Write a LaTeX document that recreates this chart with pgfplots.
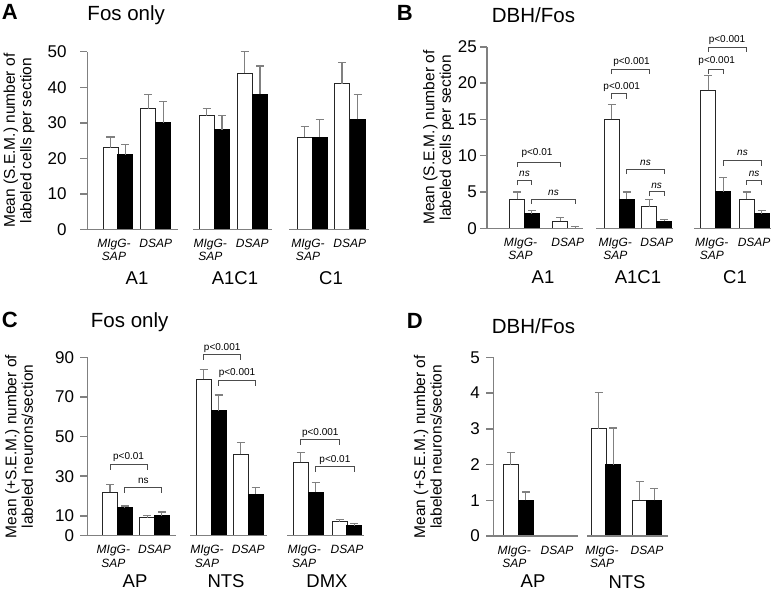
\documentclass[border=0pt]{standalone}
\usepackage{pgfplots}
\pgfplotsset{compat=1.18}
\usepackage{fontspec}
\setmainfont{Liberation Sans}
\definecolor{axgray}{gray}{0.5}
\definecolor{brk}{gray}{0.3}
\pgfplotsset{
  panel/.style={
    scale only axis, clip=false,
    axis lines=left, axis line style={-, axgray, line width=1.5bp},
    x axis line style={draw=none},
    tick align=outside, major tick length=7bp,
    ytick style={axgray, line width=1.5bp},
    xtick style={draw=none},
    /pgf/number format/assume math mode=true,
    yticklabel style={font=\fontsize{17bp}{17bp}\selectfont, anchor=east, inner sep=0pt},
    xticklabel style={font=\fontsize{12bp}{13.3bp}\selectfont\itshape, align=center, anchor=north, inner sep=0pt, yshift=-2.5bp},
    extra x tick style={xticklabel style={font=\fontsize{18.5bp}{18.5bp}\selectfont\upshape, yshift=-32.5bp}},
    ylabel style={align=center, font=\fontsize{15.5bp}{16.5bp}\selectfont, anchor=center},
    title style={anchor=base west, inner sep=0pt, font=\fontsize{20.5bp}{20.5bp}\selectfont},
    ymin=0,
  },
  wbar/.style={ybar, bar width=15, bar shift=0pt, fill=white, draw=black!85, line width=1bp,
    /pgfplots/error bars/y dir=plus, /pgfplots/error bars/y explicit,
    /pgfplots/error bars/error bar style={axgray, line width=1.2bp},
    /pgfplots/error bars/error mark options={axgray, line width=1.2bp, mark size=4bp, rotate=90}},
  bbar/.style={ybar, bar width=15, bar shift=0pt, fill=black, draw=black, line width=1bp,
    /pgfplots/error bars/y dir=plus, /pgfplots/error bars/y explicit,
    /pgfplots/error bars/error bar style={axgray, line width=1.2bp},
    /pgfplots/error bars/error mark options={axgray, line width=1.2bp, mark size=4bp, rotate=90}},
  base/.style={axgray, line width=1.5bp, forget plot},
  brack/.style={brk, line width=1bp, forget plot},
}
\newcommand{\pfont}{\fontsize{10bp}{10bp}\selectfont}
\newcommand{\lfont}{\fontsize{22bp}{22bp}\selectfont\bfseries}
\begin{document}
\begin{tikzpicture}
\useasboundingbox (0,0) rectangle (777bp,592bp);
% ---------------- Panel A ----------------
\begin{axis}[panel, at={(87.3bp,362.5bp)}, anchor=south west,
  width=287.7bp, height=177.8bp, xmin=87.3, xmax=375, ymax=50,
  ytick={0,10,...,50}, yticklabel style={xshift=-13.6bp},
  xtick={114,155.7,210.3,252.3,308,349.8},
  xticklabels={{MIgG-\\SAP},DSAP,{MIgG-\\SAP},DSAP,{MIgG-\\SAP},DSAP},
  extra x ticks={137,235,331}, extra x tick labels={A1,A1C1,C1},
  ylabel={Mean (S.E.M.) number of\\labeled cells per section},
  ylabel style={at={(axis description cs:-0.237,0.5)}},
  title={Fos only}, title style={at={(rel axis cs:0,1)}, yshift=25.7bp}]
\addplot[wbar] coordinates {(110.5,23) +- (0,3) (148.2,34) +- (0,4) (206.5,32) +- (0,2) (244.5,44) +- (0,6) (304.5,26) +- (0,3) (342,41) +- (0,6)};
\addplot[bbar] coordinates {(125.2,21) +- (0,3) (163.2,30) +- (0,6) (222,28) +- (0,4) (260,38) +- (0,8) (319.5,26) +- (0,5) (357.5,31) +- (0,7)};
\addplot[base] coordinates {(87.3,0) (178,0)};
\addplot[base] coordinates {(193,0) (272,0)};
\addplot[base] coordinates {(289,0) (369,0)};
\node[anchor=base west, inner sep=0pt, xshift=-85.6bp, yshift=31.7bp, font=\lfont] at (rel axis cs:0,1) {A};
\end{axis}
% ---------------- Panel B ----------------
\begin{axis}[panel, at={(487bp,363.7bp)}, anchor=south west,
  width=288bp, height=181.5bp, xmin=487, xmax=775, ymax=25,
  ytick={0,5,...,25}, yticklabel style={xshift=-3bp},
  xtick={520.5,567.7,615.3,656.7,711.8,754.1},
  xticklabels={{MIgG-\\SAP},DSAP,{MIgG-\\SAP},DSAP,{MIgG-\\SAP},DSAP},
  extra x ticks={543,638,735}, extra x tick labels={A1,A1C1,C1},
  ylabel={Mean (S.E.M.) number of\\labeled cells per section},
  ylabel style={at={(axis description cs:-0.168,0.5)}},
  title={DBH/Fos}, title style={at={(rel axis cs:0,1)}, xshift=4.7bp, yshift=18.1bp}]
\addplot[wbar] coordinates {(517.2,4) +- (0,1) (560.2,1) +- (0,0.45) (611.8,15) +- (0,2) (649.2,3) +- (0,1) (708.2,19) +- (0,2) (746.5,4) +- (0,1)};
\addplot[bbar] coordinates {(531.8,2) +- (0,0.4) (575.2,0) +- (0,0.22) (626.8,4) +- (0,1) (664.2,1) +- (0,0.25) (723.3,5) +- (0,2) (761.7,2) +- (0,0.45)};
\addplot[base] coordinates {(487,0) (583,0)};
\addplot[base] coordinates {(596,0) (673,0)};
\addplot[base] coordinates {(694,0) (771,0)};
% brackets
\addplot[brack] coordinates {(517.2,8.45) (517.2,9.1) (560.2,9.1) (560.2,8.45)};
\addplot[brack] coordinates {(517.2,5.91) (517.2,6.56) (531.8,6.56) (531.8,5.91)};
\addplot[brack] coordinates {(531.8,3.35) (531.8,4.0) (575.2,4.0) (575.2,3.35)};
\addplot[brack] coordinates {(611.8,21.25) (611.8,21.9) (649.2,21.9) (649.2,21.25)};
\addplot[brack] coordinates {(611.8,17.85) (611.8,18.5) (626.8,18.5) (626.8,17.85)};
\addplot[brack] coordinates {(626.8,7.45) (626.8,8.1) (664.2,8.1) (664.2,7.45)};
\addplot[brack] coordinates {(649.2,4.39) (649.2,5.04) (664.2,5.04) (664.2,4.39)};
\addplot[brack] coordinates {(708.2,24.25) (708.2,24.9) (746.5,24.9) (746.5,24.25)};
\addplot[brack] coordinates {(708.2,21.25) (708.2,21.9) (723.3,21.9) (723.3,21.25)};
\addplot[brack] coordinates {(723.3,8.62) (723.3,9.27) (761.7,9.27) (761.7,8.62)};
\addplot[brack] coordinates {(746.5,6.0) (746.5,6.65) (761.7,6.65) (761.7,6.0)};
\node[font=\pfont] at (axis cs:537,10.3) {p<0.01};
\node[font=\pfont\itshape] at (axis cs:524.5,7.44) {ns};
\node[font=\pfont\itshape] at (axis cs:553.5,4.9) {ns};
\node[font=\pfont] at (axis cs:631.5,22.95) {p<0.001};
\node[font=\pfont] at (axis cs:621.7,19.5) {p<0.001};
\node[font=\pfont\itshape] at (axis cs:645.5,8.95) {ns};
\node[font=\pfont\itshape] at (axis cs:656.7,5.87) {ns};
\node[font=\pfont] at (axis cs:727,25.9) {p<0.001};
\node[font=\pfont] at (axis cs:716.7,23.0) {p<0.001};
\node[font=\pfont\itshape] at (axis cs:742.5,10.4) {ns};
\node[font=\pfont\itshape] at (axis cs:754.1,7.44) {ns};
\node[anchor=base west, inner sep=0pt, xshift=-90.3bp, yshift=26.1bp, font=\lfont] at (rel axis cs:0,1) {B};
\end{axis}
% ---------------- Panel C ----------------
\begin{axis}[panel, at={(87.3bp,56.3bp)}, anchor=south west,
  width=287.7bp, height=178.4bp, xmin=87.3, xmax=375, ymax=90,
  ytick={0,10,30,50,70,90}, yticklabel style={xshift=-6bp},
  xtick={113.4,154.5,207,248.2,304.2,347},
  xticklabels={{MIgG-\\SAP},DSAP,{MIgG-\\SAP},DSAP,{MIgG-\\SAP},DSAP},
  extra x ticks={135,226,327}, extra x tick labels={AP,NTS,DMX},
  extra x tick style={xticklabel style={yshift=3bp}},
  ylabel={Mean (+S.E.M.) number of\\labeled neurons/section},
  ylabel style={at={(axis description cs:-0.237,0.5)}},
  title={Fos only}, title style={at={(rel axis cs:0,1)}, xshift=3.4bp, yshift=24.3bp}]
\addplot[wbar] coordinates {(110,22) +- (0,4) (147.2,9) +- (0,1) (203.5,79) +- (0,5) (240.8,41) +- (0,6) (300.8,37) +- (0,5) (339.8,7) +- (0,1.2)};
\addplot[bbar] coordinates {(124.8,14) +- (0,1) (161.8,10) +- (0,2) (218.5,63) +- (0,8) (255.5,21) +- (0,3.4) (315.5,22) +- (0,5) (354.2,5) +- (0,1.1)};
\addplot[base] coordinates {(87.3,0) (176,0)};
\addplot[base] coordinates {(190,0) (267,0)};
\addplot[base] coordinates {(287,0) (364,0)};
\addplot[brack] coordinates {(110,33.2) (110,35.7) (147.2,35.7) (147.2,33.2)};
\addplot[brack] coordinates {(124.8,21.6) (124.8,24.1) (161.8,24.1) (161.8,21.6)};
\addplot[brack] coordinates {(203.5,88.7) (203.5,91.2) (240.8,91.2) (240.8,88.7)};
\addplot[brack] coordinates {(218.5,75.7) (218.5,78.2) (255.5,78.2) (255.5,75.7)};
\addplot[brack] coordinates {(300.8,45.8) (300.8,48.3) (339.8,48.3) (339.8,45.8)};
\addplot[brack] coordinates {(315.5,32.3) (315.5,34.8) (354.2,34.8) (354.2,32.3)};
\node[font=\pfont] at (axis cs:128.6,39.6) {p<0.01};
\node[font=\pfont] at (axis cs:143.3,27.6) {ns};
\node[font=\pfont] at (axis cs:222.2,94.9) {p<0.001};
\node[font=\pfont] at (axis cs:237,82.2) {p<0.001};
\node[font=\pfont] at (axis cs:320.3,51.7) {p<0.001};
\node[font=\pfont] at (axis cs:334.9,38.2) {p<0.01};
\node[anchor=base west, inner sep=0pt, xshift=-85.6bp, yshift=30.3bp, font=\lfont] at (rel axis cs:0,1) {C};
\end{axis}
% ---------------- Panel D ----------------
\begin{axis}[panel, at={(493.3bp,56bp)}, anchor=south west,
  width=281.7bp, height=178.7bp, xmin=493.3, xmax=775, ymax=5,
  ytick={0,1,...,5}, yticklabel style={xshift=-6.3bp},
  xtick={514.3,557,602,647},
  xticklabels={{MIgG-\\SAP},DSAP,{MIgG-\\SAP},DSAP},
  extra x ticks={533,627}, extra x tick labels={AP,NTS},
  extra x tick style={xticklabel style={yshift=3bp}},
  ylabel={Mean (+S.E.M.) number of\\labeled neurons/section},
  ylabel style={at={(axis description cs:-0.232,0.5)}},
  title={DBH/Fos}, title style={at={(rel axis cs:0,1)}, xshift=-1.6bp, yshift=18bp}]
\addplot[wbar] coordinates {(510.8,2) +- (0,0.33) (598.5,3) +- (0,1.02) (639.5,1) +- (0,0.53)};
\addplot[bbar] coordinates {(525.8,1) +- (0,0.23) (613.3,2) +- (0,1.02) (654.2,1) +- (0,0.33)};
\addplot[base] coordinates {(493.3,0) (578.3,0)};
\addplot[base] coordinates {(587.3,0) (668.3,0)};
\node[anchor=base west, inner sep=0pt, xshift=-86.6bp, yshift=29bp, font=\lfont] at (rel axis cs:0,1) {D};
\end{axis}
\end{tikzpicture}
\end{document}
